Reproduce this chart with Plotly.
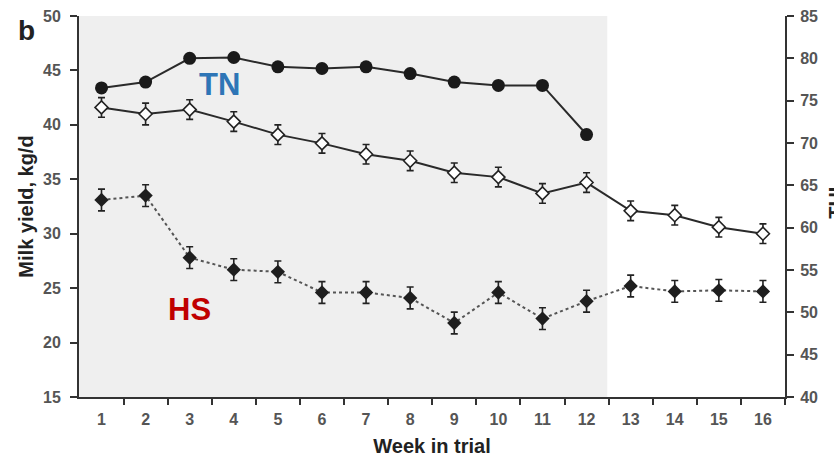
import plotly.graph_objects as go

weeks = list(range(1, 17))
thi_weeks = list(range(1, 13))
thi = [76.5, 77.2, 80.0, 80.1, 79.0, 78.8, 79.0, 78.2, 77.2, 76.8, 76.8, 71.0]
tn_yield = [41.6, 41.0, 41.4, 40.3, 39.1, 38.3, 37.3, 36.7, 35.6, 35.2, 33.7, 34.7, 32.1, 31.7, 30.6, 30.0]
tn_err = [0.9, 1.0, 0.9, 0.9, 0.9, 0.9, 0.9, 0.9, 0.9, 0.9, 0.9, 0.9, 0.9, 0.9, 0.9, 0.9]
hs_yield = [33.1, 33.5, 27.8, 26.7, 26.5, 24.6, 24.6, 24.1, 21.8, 24.6, 22.2, 23.8, 25.2, 24.7, 24.8, 24.7]
hs_err = [1.0, 1.0, 1.0, 1.0, 1.0, 1.0, 1.0, 1.0, 1.0, 1.0, 1.0, 1.0, 1.0, 1.0, 1.0, 1.0]
shade_range = [0.49, 12.47]

FONT = "Liberation Sans, Arial, sans-serif"
AX = "#333333"
TICKF = dict(family=FONT, size=16, color="#555555", weight="bold")

fig = go.Figure()

fig.add_shape(type="rect", xref="x", yref="paper", x0=shade_range[0], x1=shade_range[1],
              y0=0, y1=1, fillcolor="#EFEFEF", line=dict(width=0), layer="below")

fig.add_trace(go.Scatter(
    x=weeks, y=hs_yield, mode="lines+markers",
    line=dict(color="#555555", width=2, dash="dot"),
    marker=dict(symbol="diamond", size=11, color="#1e1e1e"),
    error_y=dict(type="data", array=hs_err, color="#222222", thickness=1.6, width=3.5),
    showlegend=False))

fig.add_trace(go.Scatter(
    x=weeks, y=tn_yield, mode="lines+markers",
    line=dict(color="#2a2a2a", width=2),
    marker=dict(symbol="diamond", size=10, color="white", line=dict(color="#222222", width=1.6)),
    error_y=dict(type="data", array=tn_err, color="#222222", thickness=1.6, width=3.5),
    showlegend=False))

fig.add_trace(go.Scatter(
    x=thi_weeks, y=thi, mode="lines+markers", yaxis="y2",
    line=dict(color="#2a2a2a", width=2),
    marker=dict(symbol="circle", size=13, color="#1a1a1a"),
    showlegend=False))

fig.update_layout(
    width=834, height=457,
    margin=dict(l=79, r=49, t=16, b=60, autoexpand=False),
    paper_bgcolor="white", plot_bgcolor="white",
    xaxis=dict(range=[0.49, 16.5], tickmode="array", tickvals=weeks, automargin=False,
               ticks="outside", ticklen=7, tickcolor="rgba(0,0,0,0)",
               minor=dict(ticks="outside", tickmode="array",
                          tickvals=[w + 0.5 for w in weeks], ticklen=6, tickwidth=2, tickcolor=AX),
               showline=True, linecolor=AX, linewidth=2, showgrid=False, zeroline=False,
               tickfont=TICKF,
               title=dict(text="<b>Week in trial</b>", font=dict(family=FONT, size=20, color="#222222"), standoff=13)),
    yaxis=dict(range=[15, 50], dtick=5, ticks="outside", ticklen=7, tickwidth=2, tickcolor=AX,
               automargin=False, ticklabelstandoff=6,
               showline=True, linecolor=AX, linewidth=2, showgrid=False, zeroline=False,
               tickfont=TICKF,
               title=dict(text="<b>Milk yield, kg/d</b>", font=dict(family=FONT, size=20, color="#222222"), standoff=4)),
    yaxis2=dict(range=[40, 85], dtick=5, overlaying="y", side="right", automargin=False,
                ticks="outside", ticklen=7, tickwidth=2, tickcolor=AX, ticklabelstandoff=3,
                showline=True, linecolor=AX, linewidth=2, showgrid=False, zeroline=False,
                tickfont=TICKF),
    annotations=[
        dict(text="<b>b</b>", xref="paper", yref="paper", x=-0.074, y=0.963, xanchor="center", yanchor="middle",
             showarrow=False, font=dict(family=FONT, size=28, color="#222222")),
        dict(text="<b>TN</b>", xref="x", yref="y", x=3.68, y=43.7, showarrow=False,
             font=dict(family=FONT, size=31, color="#2E75B6")),
        dict(text="<b>HS</b>", xref="x", yref="y", x=3.0, y=23.0, showarrow=False,
             font=dict(family=FONT, size=31, color="#C00000")),
        dict(text="<b>THI</b>", xref="paper", yref="paper", x=1.054, y=0.51, xanchor="left", yanchor="middle",
             textangle=-90, showarrow=False, font=dict(family=FONT, size=20, color="#222222")),
    ],
)

fig.write_html("out.html", config={"displayModeBar": False},
               post_script="document.body.style.margin='0';")
